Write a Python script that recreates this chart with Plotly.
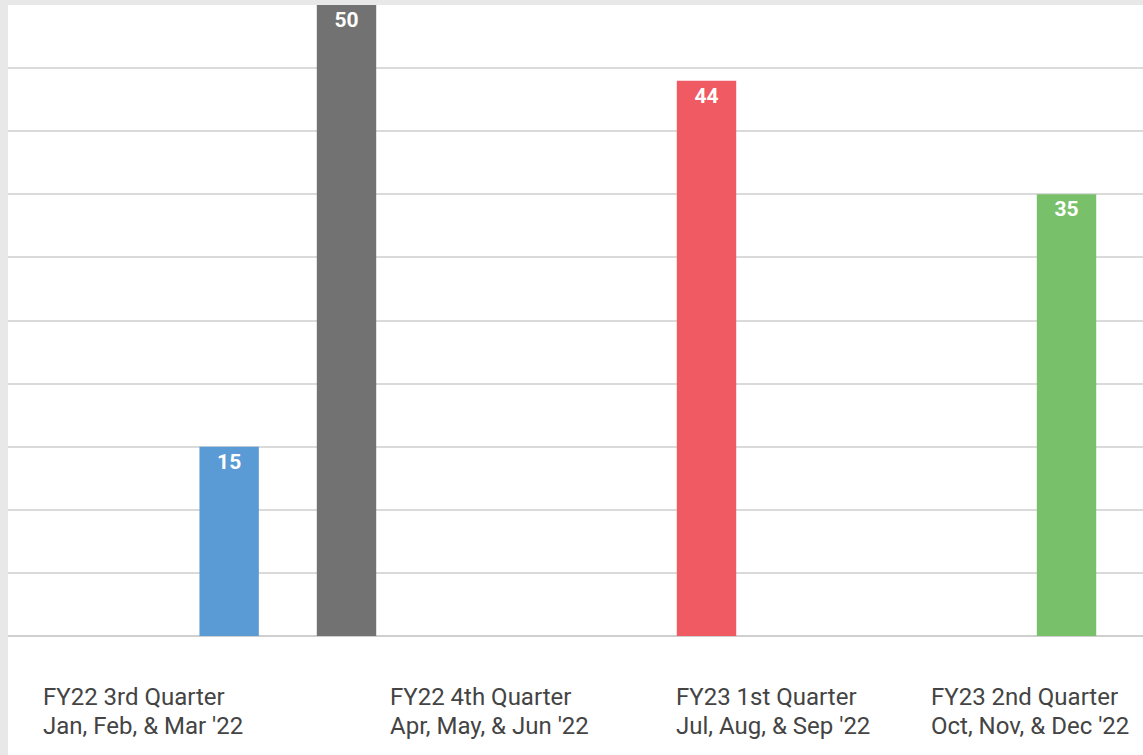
import plotly.graph_objects as go

# data
quarters = ["FY22 3rd Quarter", "FY22 4th Quarter", "FY23 1st Quarter", "FY23 2nd Quarter"]
months = ["Jan, Feb, & Mar '22", "Apr, May, & Jun '22", "Jul, Aug, & Sep '22", "Oct, Nov, & Dec '22"]
values = [15, 50, 44, 35]

COLORS = ["#5B9BD5", "#727272", "#F05A62", "#78C16A"]

W, H = 1143, 755
L, R, T, B = 8, 0, 5, 119
PW, PH = W - L - R, H - T - B

BAR_W = 0.165
# horizontal shift of each bar from its category centre (the source layout is uneven)
SHIFT = [0.674, 0.0, 0.0, 0.0]
# left edge of each x label, in pixels
LABEL_X = [41, 388, 674, 929]
LINE_Y = [697, 726]  # vertical centre of the two label lines, in pixels

fig = go.Figure()
for q, v, c, s in zip(quarters, values, COLORS, SHIFT):
    fig.add_trace(
        go.Bar(
            x=[q], y=[v],
            width=BAR_W, offset=-BAR_W / 2 + s,
            marker=dict(color=c, line=dict(width=0)),
            text=[v], textposition="inside", insidetextanchor="end",
            textfont=dict(family="Roboto", size=21, color="#FFFFFF", weight="bold"),
            showlegend=False, hoverinfo="skip",
        )
    )

for q, m, px in zip(quarters, months, LABEL_X):
    for line, py in zip([q, m], LINE_Y):
        fig.add_annotation(
            text=line, xref="paper", yref="paper",
            x=(px - L) / PW, y=-(py - (H - B)) / PH,
            xanchor="left", yanchor="middle", align="left", showarrow=False,
            font=dict(family="Roboto", size=24, color="#444444"),
        )

# grey strips of the page around the chart
fig.add_shape(type="rect", xref="paper", yref="paper",
              x0=-L / PW, x1=0, y0=-B / PH, y1=1 + T / PH,
              fillcolor="#E8E8E8", line=dict(width=0), layer="below")
fig.add_shape(type="rect", xref="paper", yref="paper",
              x0=-L / PW, x1=1, y0=1, y1=1 + T / PH,
              fillcolor="#E8E8E8", line=dict(width=0), layer="below")

fig.update_layout(
    width=W, height=H,
    margin=dict(l=L, r=R, t=T, b=B),
    paper_bgcolor="#FFFFFF",
    plot_bgcolor="#FFFFFF",
    barmode="overlay",
    xaxis=dict(
        type="category", categoryorder="array", categoryarray=quarters,
        range=[0.0597, 0.0597 + PW / 360], showticklabels=False,
        showgrid=False, zeroline=False, showline=False, ticks="",
    ),
    yaxis=dict(
        range=[0, 50], dtick=5, showticklabels=False, ticks="",
        gridcolor="#DADADA", gridwidth=1.5,
        zeroline=True, zerolinecolor="#CFCFCF", zerolinewidth=1.5,
        showline=False,
    ),
)

fig.write_html(
    "out.html",
    config={"displayModeBar": False},
    post_script="document.body.style.margin='0px';",
)
